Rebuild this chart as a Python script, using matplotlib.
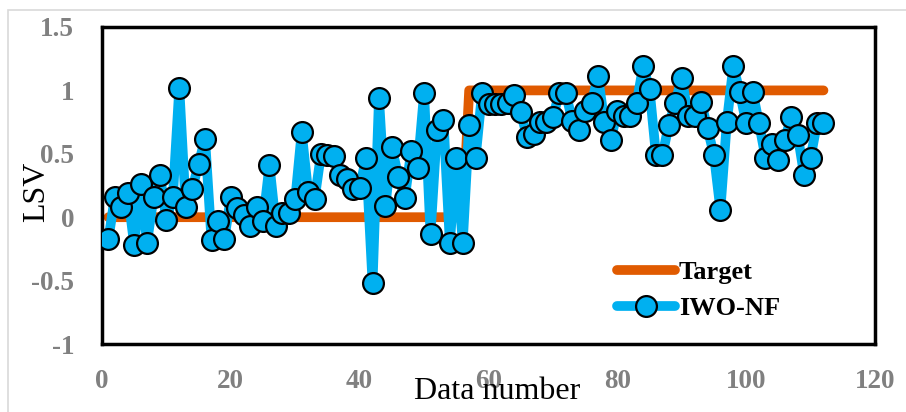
import matplotlib
matplotlib.use('Agg')
import matplotlib.pyplot as plt
from matplotlib.patches import Rectangle

plt.rcParams['font.family'] = ['Liberation Serif', 'DejaVu Serif']

data_number = list(range(1, 113))
target = [0] * 56 + [1] * 56
iwo_nf = [-0.17, 0.16, 0.08, 0.19, -0.22, 0.26, -0.20, 0.16, 0.33, -0.02,
          0.16, 1.02, 0.08, 0.22, 0.42, 0.62, -0.18, -0.03, -0.17, 0.16,
          0.07, 0.02, -0.07, 0.08, -0.03, 0.41, -0.07, 0.03, 0.03, 0.14,
          0.67, 0.20, 0.14, 0.50, 0.49, 0.48, 0.33, 0.30, 0.22, 0.23,
          0.47, -0.52, 0.94, 0.09, 0.55, 0.32, 0.15, 0.52, 0.39, 0.98,
          -0.13, 0.69, 0.77, -0.20, 0.47, -0.20, 0.73, 0.47, 0.98, 0.89,
          0.89, 0.89, 0.90, 0.96, 0.83, 0.63, 0.66, 0.75, 0.75, 0.79,
          0.98, 0.98, 0.76, 0.69, 0.84, 0.90, 1.11, 0.75, 0.61, 0.84,
          0.80, 0.80, 0.90, 1.19, 1.01, 0.49, 0.49, 0.73, 0.90, 1.10,
          0.80, 0.80, 0.91, 0.70, 0.49, 0.06, 0.75, 1.19, 0.99, 0.74,
          0.99, 0.74, 0.47, 0.58, 0.45, 0.61, 0.79, 0.65, 0.33, 0.47,
          0.74, 0.74]
xticks = [0, 20, 40, 60, 80, 100, 120]
yticks = [-1, -0.5, 0, 0.5, 1, 1.5]
ytick_labels = ['-1', '-0.5', '0', '0.5', '1', '1.5']

fig = plt.figure(figsize=(9.06, 4.12), dpi=100)
# light grey chart-area border
fig.patches.append(Rectangle((8 / 906, -0.05), 1.2, 1 - 10 / 412 + 0.05,
                             transform=fig.transFigure, fill=False,
                             edgecolor='#d9d9d9', lw=1.2))
ax = fig.add_axes([102 / 906, 1 - 344 / 412, 773 / 906, 317 / 412])

ax.plot(data_number, target, color='#E05A00', lw=7, solid_capstyle='round',
        solid_joinstyle='round', label='Target', zorder=2)
ax.plot(data_number, iwo_nf, color='#00B0F0', lw=7, marker='o', ms=15,
        mfc='#00B0F0', mec='black', mew=1.6, solid_capstyle='round',
        label='IWO-NF', zorder=3)

ax.set_xlim(0, 120)
ax.set_ylim(-1, 1.5)
ax.set_xticks(xticks)
ax.set_yticks(yticks)
ax.set_yticklabels(ytick_labels)
ax.tick_params(length=0, labelsize=19.5, labelcolor='#808080')
ax.tick_params(axis='x', pad=18)
ax.tick_params(axis='y', pad=20)
for lab in ax.get_xticklabels() + ax.get_yticklabels():
    lab.set_fontweight('bold')
for sp in ax.spines.values():
    sp.set_linewidth(2.5)
    sp.set_color('black')

ax.set_xlabel('Data number', fontsize=23)
ax.xaxis.set_label_coords(0.511, -0.151)
ax.xaxis.label.set_va('center')
ax.set_ylabel('LSV', fontsize=23)
ax.yaxis.set_label_coords(-0.084, 0.48)
ax.yaxis.label.set_va('center')

leg = ax.legend(loc='upper left', bbox_to_anchor=(0.666, 0.262), frameon=False,
                handlelength=2.2, handletextpad=0.15, labelspacing=0.45,
                borderpad=0, borderaxespad=0,
                prop={'weight': 'bold', 'size': 19})

fig.savefig('out.png', dpi=100)
